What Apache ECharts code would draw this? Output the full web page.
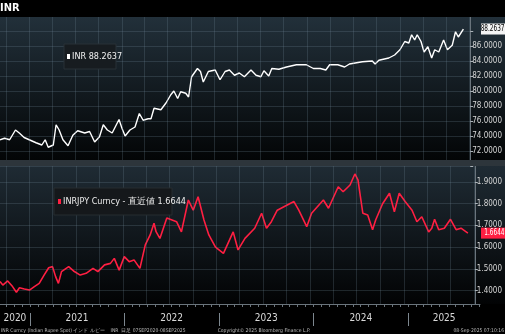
<!DOCTYPE html>
<html><head><meta charset="utf-8">
<script src="https://cdn.jsdelivr.net/npm/echarts@6/dist/echarts.min.js"></script>
<style>html,body{margin:0;padding:0;background:#000;}#c{width:505px;height:334px;}</style>
</head><body><div id="c"></div>
<script>
const titleText = 'INR';
const inrName = 'INR';
const jpyName = 'INRJPY Curncy - 直近値';
const inrDates = ['2020-09-08','2020-09-26','2020-10-16','2020-11-08','2020-11-23','2020-12-12','2021-01-01','2021-01-28','2021-02-20','2021-03-05','2021-03-17','2021-04-06','2021-04-17','2021-04-29','2021-05-14','2021-06-03','2021-06-22','2021-07-11','2021-08-08','2021-08-27','2021-09-16','2021-10-05','2021-10-20','2021-11-05','2021-11-24','2021-12-21','2022-01-02','2022-01-14','2022-02-02','2022-02-22','2022-03-11','2022-03-26','2022-04-15','2022-04-26','2022-05-08','2022-06-04','2022-06-24','2022-07-13','2022-07-25','2022-08-09','2022-08-21','2022-09-10','2022-09-21','2022-10-03','2022-10-26','2022-11-07','2022-11-18','2022-12-08','2023-01-04','2023-01-23','2023-02-12','2023-03-01','2023-03-21','2023-04-09','2023-04-29','2023-05-25','2023-06-14','2023-07-03','2023-07-15','2023-08-03','2023-08-15','2023-09-12','2023-10-12','2023-11-20','2023-12-29','2024-01-26','2024-02-22','2024-03-15','2024-03-30','2024-05-01','2024-05-28','2024-06-16','2024-08-06','2024-09-14','2024-09-25','2024-10-10','2024-11-18','2024-12-11','2025-01-01','2025-01-20','2025-02-05','2025-02-16','2025-02-28','2025-03-10','2025-03-25','2025-04-06','2025-04-21','2025-05-06','2025-05-18','2025-06-03','2025-06-22','2025-07-07','2025-07-26','2025-08-08','2025-08-19','2025-09-08'];
const inrValues = [73.5,73.7,73.5,74.8,74.4,73.8,73.5,73.1,72.8,73.5,72.5,72.8,75.5,74.8,73.5,72.7,74.1,74.7,74.4,74.6,73.2,73.9,75.5,74.8,74.4,76.2,75.0,74.0,74.8,75.2,77.0,76.1,76.3,76.3,77.7,77.5,78.4,79.5,80.0,79.0,79.9,79.7,79.2,81.9,83.0,82.6,81.2,82.6,82.8,81.5,82.6,82.8,82.1,82.4,81.9,82.8,82.1,81.9,82.7,82.0,83.0,82.9,83.2,83.5,83.5,83.0,83.0,82.8,83.5,83.5,83.2,83.6,83.9,84.0,83.6,84.1,84.4,84.8,85.5,86.6,86.4,87.5,86.8,87.5,86.6,85.2,85.9,84.4,85.5,85.2,86.8,85.5,86.1,87.9,87.2,88.2637];
const jpyDates = ['2020-09-08','2020-09-19','2020-10-08','2020-10-27','2020-11-11','2020-11-23','2020-12-12','2021-01-01','2021-01-20','2021-02-08','2021-02-27','2021-03-17','2021-04-01','2021-04-13','2021-04-24','2021-05-06','2021-06-03','2021-06-22','2021-07-18','2021-08-10','2021-09-06','2021-09-25','2021-10-21','2021-11-13','2021-11-28','2021-12-17','2022-01-06','2022-01-25','2022-02-13','2022-03-08','2022-03-29','2022-04-17','2022-05-02','2022-05-10','2022-05-25','2022-06-21','2022-07-29','2022-08-17','2022-09-13','2022-10-02','2022-10-21','2022-11-13','2022-12-02','2022-12-28','2023-01-28','2023-03-07','2023-03-26','2023-04-22','2023-05-30','2023-06-26','2023-07-15','2023-08-03','2023-08-26','2023-10-30','2023-11-18','2023-12-19','2024-01-07','2024-02-22','2024-03-13','2024-04-20','2024-05-09','2024-06-05','2024-06-24','2024-07-06','2024-07-25','2024-08-13','2024-09-01','2024-09-13','2024-10-10','2024-11-06','2024-11-25','2024-12-14','2025-01-06','2025-02-02','2025-02-21','2025-03-12','2025-04-08','2025-04-20','2025-05-01','2025-05-17','2025-06-08','2025-07-02','2025-07-24','2025-08-12','2025-09-08'];
const jpyValues = [1.441,1.425,1.444,1.418,1.392,1.413,1.407,1.402,1.418,1.433,1.471,1.505,1.510,1.464,1.433,1.487,1.510,1.490,1.471,1.479,1.502,1.487,1.518,1.525,1.548,1.494,1.556,1.533,1.541,1.502,1.610,1.656,1.710,1.671,1.640,1.734,1.717,1.670,1.817,1.770,1.832,1.725,1.656,1.600,1.571,1.670,1.587,1.640,1.687,1.756,1.687,1.717,1.770,1.810,1.770,1.694,1.756,1.817,1.779,1.878,1.855,1.886,1.937,1.910,1.756,1.748,1.680,1.725,1.800,1.848,1.763,1.848,1.810,1.770,1.717,1.740,1.670,1.687,1.728,1.680,1.687,1.728,1.680,1.687,1.6644];
const yearLabels = ['2020','2021','2022','2023','2024','2025'];
const inrTicks = [72,74,76,78,80,82,84,86];
const jpyTicks = [1.4,1.5,1.6,1.7,1.8,1.9];
const footerLeft = 'INR Curncy (Indian Rupee Spot) インド ルピー    INR  日足 07SEP2020-08SEP2025';
const footerMid = 'Copyright© 2025 Bloomberg Finance L.P.';
const footerRight = '08-Sep-2025 07:10:16';

const ts = s => { const [y,m,d] = s.split('-').map(Number); return Date.UTC(y, m-1, d); };
const xMin = Date.UTC(2020, 8, 8), xMax = Date.UTC(2025, 9, 5);
const inrData = inrDates.map((d,i) => [ts(d), inrValues[i]]);
const jpyData = jpyDates.map((d,i) => [ts(d), jpyValues[i]]);
const months = [], quarters = [], yearStarts = [];
for (let y = 2020; y <= 2025; y++) for (let m = 0; m < 12; m++) {
  const t = Date.UTC(y, m, 1);
  if (t <= xMin || t >= xMax) continue;
  months.push(t);
  if (m % 3 === 0) quarters.push(t);
  if (m === 0) yearStarts.push(t);
}
const labelPos = yearLabels.map(Y => {
  const y = +Y; const a = Math.max(Date.UTC(y,0,1), xMin), b = Math.min(Date.UTC(y+1,0,1), xMax);
  return (a + b) / 2;
});
const FONT = '"Liberation Sans Narrow","DejaVu Sans Condensed","Liberation Sans",sans-serif';
const gridColor = 'rgba(110,130,145,0.26)';
const axisColor = '#6a747c';
const near = (v, arr) => arr.some(t => Math.abs(t - v) < 1e-6);
const hiddenX = (g) => ({ type:'value', gridIndex:g, min:xMin, max:xMax, show:false, splitLine:{show:false} });

const chart = echarts.init(document.getElementById('c'), null, {renderer:'canvas'});
const grad = (c1, c2) => new echarts.graphic.LinearGradient(0,0,0,1,[{offset:0,color:c1},{offset:1,color:c2}]);
const option = {
  backgroundColor: '#000',
  animation: false,
  grid: [
    {left:0, width:480, top:16, height:150},
    {left:0, width:480, top:160.3, height:151.9},
    {left:0, width:480, top:303, height:1}
  ],
  xAxis: [
    hiddenX(0), hiddenX(1),
    { type:'value', gridIndex:2, position:'bottom', min:xMin, max:xMax, z:60,
      axisLine:{show:true, lineStyle:{color:axisColor, width:1}},
      axisTick:{show:true, customValues:months, length:3, lineStyle:{color:axisColor}},
      axisLabel:{show:true, customValues:labelPos, formatter:v => String(new Date(v).getUTCFullYear()), color:'#d9d9d9', fontSize:10, fontFamily:FONT, margin:9},
      splitLine:{show:false} },
    { type:'value', gridIndex:2, position:'bottom', min:xMin, max:xMax, z:60, offset:9,
      axisLine:{show:false},
      axisTick:{show:true, customValues:yearStarts, length:13, lineStyle:{color:'#7d878f'}},
      axisLabel:{show:false}, splitLine:{show:false} }
  ],
  yAxis: [
    { type:'value', gridIndex:0, position:'right', min:70, max:90, interval:2,
      axisLine:{show:true, lineStyle:{color:axisColor}},
      axisTick:{show:true, length:3, lineStyle:{color:'#aab2b8'}},
      axisLabel:{color:'#d6d6d6', fontSize:8, fontFamily:FONT, margin:2, formatter:v => near(v, inrTicks) ? v.toFixed(4) : ''},
      splitLine:{show:true, lineStyle:{color:gridColor, width:1}} },
    { type:'value', gridIndex:1, position:'right', min:1.3, max:2.0, interval:0.1,
      axisLine:{show:true, lineStyle:{color:axisColor}},
      axisTick:{show:true, length:3, lineStyle:{color:'#aab2b8'}},
      axisLabel:{color:'#d6d6d6', fontSize:8, fontFamily:FONT, margin:2, formatter:v => near(v, jpyTicks) ? v.toFixed(4) : ''},
      splitLine:{show:true, lineStyle:{color:gridColor, width:1}} },
    { type:'value', gridIndex:2, show:false, min:0, max:1 }
  ],
  series: [
    { type:'line', xAxisIndex:0, yAxisIndex:0, data:[], z:1, silent:true,
      markLine:{silent:true, symbol:'none', label:{show:false}, lineStyle:{color:gridColor, type:'solid', width:1},
        data: quarters.map(q => ({xAxis:q}))} },
    { type:'line', xAxisIndex:1, yAxisIndex:1, data:[], z:1, silent:true,
      markLine:{silent:true, symbol:'none', label:{show:false}, lineStyle:{color:gridColor, type:'solid', width:1},
        data: quarters.map(q => ({xAxis:q}))} },
    { name:inrName, type:'line', xAxisIndex:0, yAxisIndex:0, data:inrData, showSymbol:false, z:3,
      lineStyle:{color:'#ffffff', width:1.4}, itemStyle:{color:'#fff'} },
    { name:jpyName, type:'line', xAxisIndex:1, yAxisIndex:1, data:jpyData, showSymbol:false, z:3,
      lineStyle:{color:'#ff1f42', width:1.6}, itemStyle:{color:'#ff1f42'} }
  ],
  graphic: [
    {type:'rect', id:'bg1', z:-10, silent:true, shape:{x:0,y:17,width:505,height:143}, style:{fill:grad('#22303a','#030506')}},
    {type:'rect', id:'bg2', z:-10, silent:true, shape:{x:0,y:166,width:505,height:138}, style:{fill:grad('#1f2b34','#020304')}},
    {type:'rect', id:'top', z:50, silent:true, shape:{x:0,y:0,width:505,height:17}, style:{fill:'#000'}},
    {type:'rect', id:'sep', z:50, silent:true, shape:{x:0,y:160,width:505,height:6}, style:{fill:'#2d353b'}},
    {type:'rect', id:'bot', z:50, silent:true, shape:{x:0,y:304.5,width:505,height:30}, style:{fill:'#000'}},
    {type:'text', id:'title', z:70, x:0, y:3, style:{text:titleText, fill:'#fff', font:'bold 11px '+FONT}},
    {type:'rect', id:'lb1', z:70, shape:{x:64,y:44,width:52,height:25}, style:{fill:'#171c20', stroke:'#283036', lineWidth:1}},
    {type:'rect', id:'lm1', z:71, shape:{x:67,y:54,width:3,height:5}, style:{fill:'#fff'}},
    {type:'text', id:'lt1', z:71, x:72, y:57, style:{text:inrName+' '+inrValues[inrValues.length-1].toFixed(4), fill:'#f2f2f2', font:'9px '+FONT, verticalAlign:'middle'}},
    {type:'rect', id:'lb2', z:70, shape:{x:54,y:188,width:118,height:27}, style:{fill:'#15181b', stroke:'#262c31', lineWidth:1}},
    {type:'rect', id:'lm2', z:71, shape:{x:58,y:199,width:3,height:5}, style:{fill:'#ff1f42'}},
    {type:'text', id:'lt2', z:71, x:63, y:202, style:{text:jpyName+' '+jpyValues[jpyValues.length-1].toFixed(4), fill:'#ececec', font:'9px '+FONT, verticalAlign:'middle'}},
    {type:'text', id:'f1', z:70, x:1, y:331, style:{text:footerLeft, fill:'#bdbdbd', font:'5px '+FONT, verticalAlign:'middle'}},
    {type:'text', id:'f2', z:70, x:264, y:331, style:{text:footerMid, fill:'#bdbdbd', font:'5px '+FONT, verticalAlign:'middle', align:'center'}},
    {type:'text', id:'f3', z:70, x:504, y:331, style:{text:footerRight, fill:'#bdbdbd', font:'5px '+FONT, verticalAlign:'middle', align:'right'}}
  ]
};
chart.setOption(option);
const lastInr = inrData[inrData.length-1], lastJpy = jpyData[jpyData.length-1];
const p1 = chart.convertToPixel({xAxisIndex:0, yAxisIndex:0}, lastInr);
const p2 = chart.convertToPixel({xAxisIndex:1, yAxisIndex:1}, lastJpy);
chart.setOption({graphic: [
  {type:'rect', id:'tag1', z:80, shape:{x:481, y:p1[1]-5.5, width:24, height:11}, style:{fill:'#f4f4f4'}},
  {type:'text', id:'tag1t', z:81, x:504.5, y:p1[1], scaleX:0.8, style:{text:lastInr[1].toFixed(4), fill:'#000', font:'8px '+FONT, verticalAlign:'middle', align:'right'}},
  {type:'rect', id:'tag2', z:80, shape:{x:481, y:p2[1]-5.5, width:24, height:11}, style:{fill:'#ff1f42'}},
  {type:'text', id:'tag2t', z:81, x:504.5, y:p2[1], scaleX:0.8, style:{text:lastJpy[1].toFixed(4), fill:'#fff', font:'8px '+FONT, verticalAlign:'middle', align:'right'}}
]});
</script></body></html>
